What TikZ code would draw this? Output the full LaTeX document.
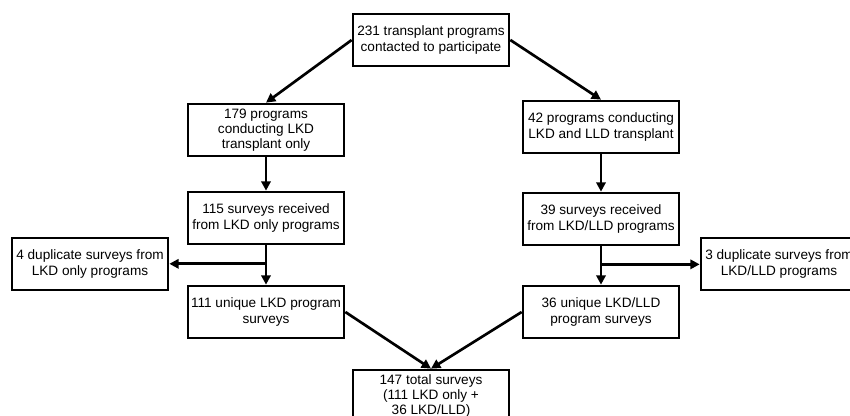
\documentclass[tikz,border=0pt]{standalone}
\usepackage{fontspec}
\setmainfont{Liberation Sans}
\usetikzlibrary{arrows.meta,calc,positioning}

\tikzset{
  box/.style={draw, line width=2pt, minimum width=117pt, minimum height=39pt,
    align=center, inner sep=2pt, font=\fontsize{10.2}{11.3}\selectfont},
  arr/.style={line width=2pt, -{Triangle[length=7pt,width=7pt]}}
}

\begin{document}
\begin{tikzpicture}[x=0.75pt, y=-0.75pt]
    \useasboundingbox (0,0) rectangle (850,416);

    % Top
    \node[box] (contact) at (431,40) {231 transplant programs\\contacted to participate};

    % LKD only branch
    \node[box] (lkd)    at (266,130) {179 programs\\conducting LKD\\transplant only};
    \node[box] (lkdrec) at (266,218) {115 surveys received\\from LKD only programs};
    \node[box] (lkddup) at (90,264)  {4 duplicate surveys from\\LKD only programs};
    \node[box] (lkduni) at (266,312) {111 unique LKD program\\surveys};

    % LKD/LLD branch
    \node[box] (lld)    at (601,127) {42 programs conducting\\LKD and LLD transplant};
    \node[box] (lldrec) at (601,219) {39 surveys received\\from LKD/LLD programs};
    \node[box] (llddup) at (779,264) {3 duplicate surveys from\\LKD/LLD programs};
    \node[box] (llduni) at (601,312) {36 unique LKD/LLD\\program surveys};

    % Total
    \node[box] (total) at (431,396) {147 total surveys\\(111 LKD only +\\36 LKD/LLD)};

    % Connectors
    \draw[arr] (contact.west) -- (lkd.north);
    \draw[arr] (contact.east) -- (lld.north);
    \draw[arr] (lkd) -- (lkdrec);
    \draw[arr] (lld) -- (lldrec);

    \coordinate (lkdsplit) at ($(lkdrec.south)!0.47!(lkduni.north)$);
    \coordinate (lldsplit) at ($(lldrec.south)!0.47!(llduni.north)$);
    \draw[arr] (lkdrec) -- (lkduni);
    \draw[arr] (lkdsplit) -- (lkdsplit -| lkddup.east);
    \draw[arr] (lldrec) -- (llduni);
    \draw[arr] (lldsplit) -- (lldsplit -| llddup.west);

    \draw[arr] (lkduni.east) -- (total.north);
    \draw[arr] (llduni.west) -- (total.north);
\end{tikzpicture}
\end{document}
